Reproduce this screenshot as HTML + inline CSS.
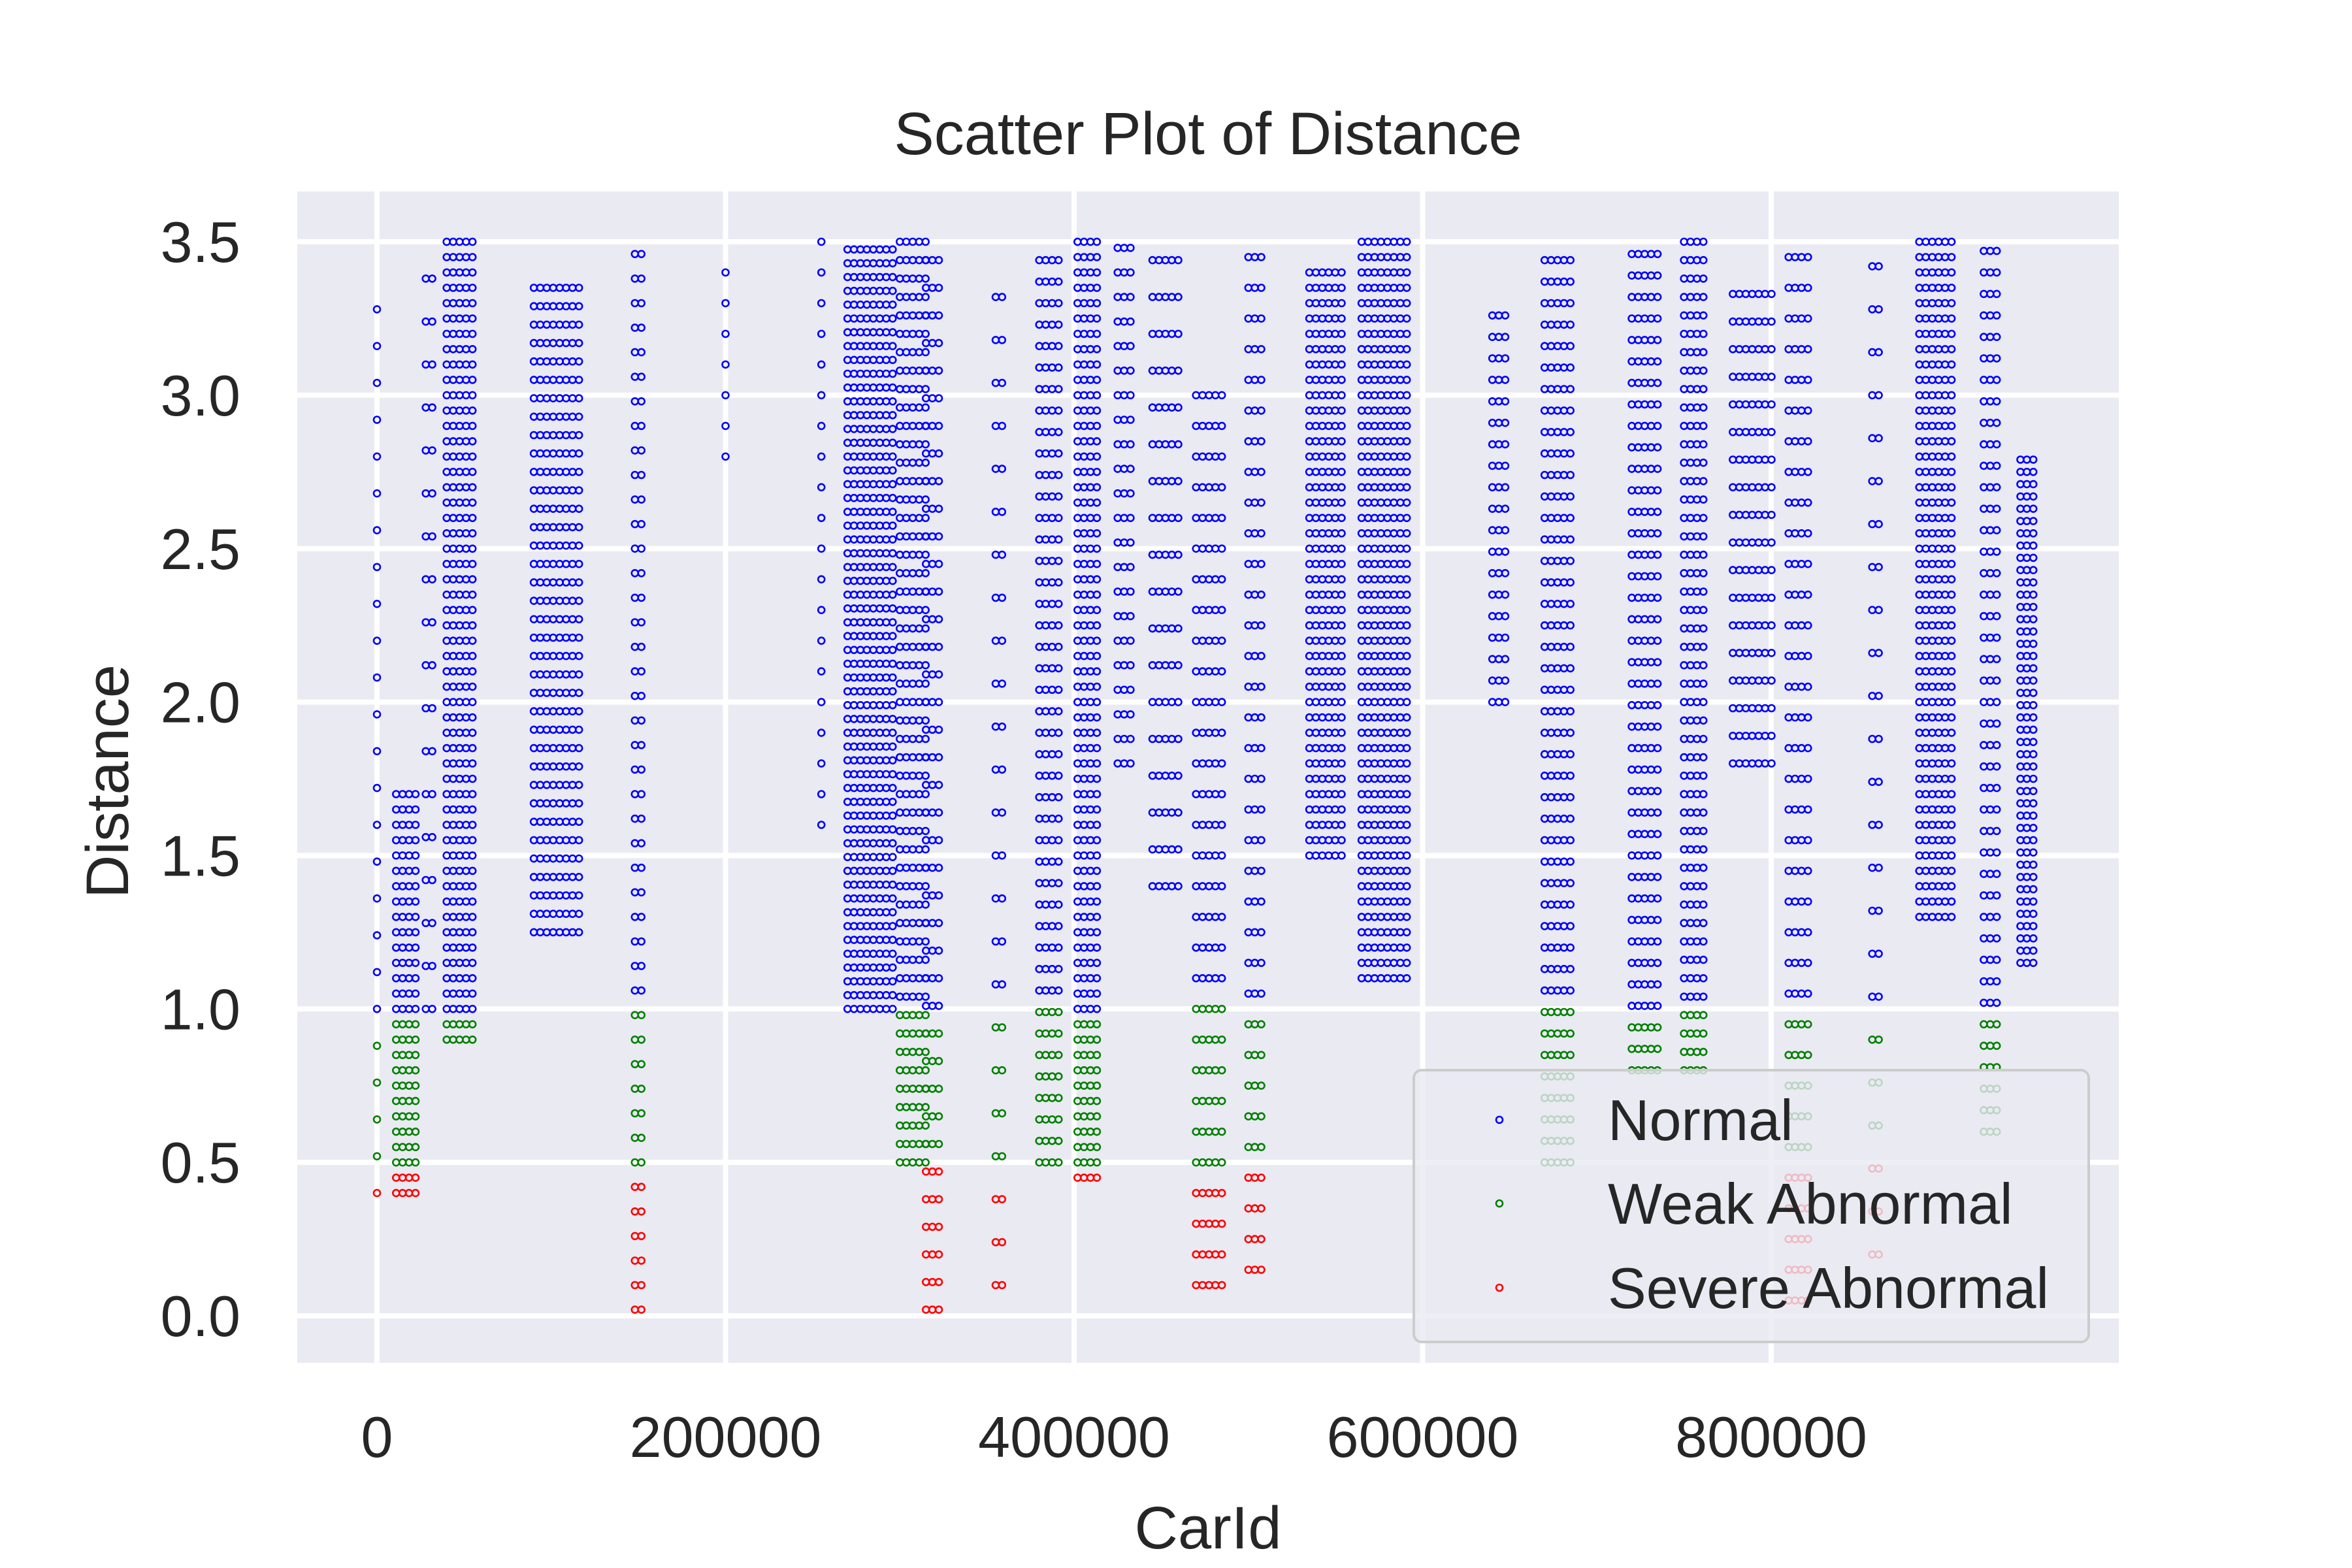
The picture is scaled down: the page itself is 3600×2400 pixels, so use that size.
<!DOCTYPE html>
<html><head><meta charset="utf-8"><style>
html,body{margin:0;padding:0;background:#fff}
svg{display:block}
text{font-family:"Liberation Sans",Arial,sans-serif;fill:#262626}
</style></head><body>
<svg id="chart" width="3600" height="2400" xmlns="http://www.w3.org/2000/svg">
<rect x="455" y="293" width="2788" height="1793" fill="#eaeaf2"/>
<g id="grid"></g>
<g id="ticks"></g>
<g id="pts"></g>
<text x="1849" y="236" font-size="92" text-anchor="middle">Scatter Plot of Distance</text>
<text x="1849" y="2370" font-size="92" text-anchor="middle">CarId</text>
<text x="0" y="0" font-size="92" text-anchor="middle" transform="translate(196,1196) rotate(-90)">Distance</text>
<g>
<rect x="2164" y="1638" width="1033" height="416" rx="12" fill="#eaeaf2" fill-opacity="0.8" stroke="#cccccc" stroke-width="4"/>
<circle cx="2295" cy="1714" r="5" fill="none" stroke="#0000ff" stroke-width="2.6"/>
<text x="2461" y="1745" font-size="88">Normal</text>
<circle cx="2295" cy="1842" r="5" fill="none" stroke="#008000" stroke-width="2.6"/>
<text x="2461" y="1873" font-size="88">Weak Abnormal</text>
<circle cx="2295" cy="1971" r="5" fill="none" stroke="#ff0000" stroke-width="2.6"/>
<text x="2461" y="2002" font-size="88">Severe Abnormal</text>
</g>
</svg>
<script>
const xTicks = [0, 200000, 400000, 600000, 800000];
const yTicks = [0.0, 0.5, 1.0, 1.5, 2.0, 2.5, 3.0, 3.5];
// Groups of card ids: start id, number of sub-columns, min distance, max distance, distance spacing
const groupIds   = [0, 11000, 28000, 40000, 90000, 148000, 200000, 255000, 270000, 300000, 315000, 355000, 380000, 402000, 425000, 445000, 470000, 500000, 535000, 565000, 640000, 670000, 720000, 750000, 778000, 810000, 858000, 885000, 922000, 943000];
const groupCols  = [1, 4, 2, 5, 8, 2, 1, 1, 8, 5, 3, 2, 4, 4, 3, 5, 5, 3, 6, 8, 3, 5, 5, 4, 7, 4, 2, 6, 3, 3];
const groupLow   = [0.40, 0.40, 1.00, 0.90, 1.25, 0.02, 2.80, 1.60, 1.00, 0.50, 0.02, 0.10, 0.50, 0.45, 1.80, 1.40, 0.10, 0.15, 1.50, 1.10, 2.00, 0.50, 0.80, 0.80, 1.80, 0.05, 0.20, 1.30, 0.60, 1.15];
const groupHigh  = [3.30, 1.70, 3.50, 3.50, 3.40, 3.50, 3.40, 3.50, 3.50, 3.50, 3.50, 3.40, 3.50, 3.50, 3.50, 3.50, 3.00, 3.50, 3.40, 3.50, 3.30, 3.50, 3.50, 3.50, 3.40, 3.50, 3.50, 3.50, 3.50, 2.80];
const groupStep  = [0.12, 0.05, 0.14, 0.05, 0.06, 0.08, 0.10, 0.10, 0.045, 0.06, 0.09, 0.14, 0.07, 0.05, 0.08, 0.12, 0.10, 0.10, 0.05, 0.05, 0.07, 0.07, 0.07, 0.06, 0.09, 0.10, 0.14, 0.05, 0.07, 0.04];

const NS = "http://www.w3.org/2000/svg";
const X0 = 577, XS = 533.5/200000, Y0 = 2014, YS = 469.7;
function xs(v){ return X0 + v*XS; }
function ys(v){ return Y0 - v*YS; }

const grid = document.getElementById('grid');
const ticks = document.getElementById('ticks');
xTicks.forEach(t=>{
  const l = document.createElementNS(NS,'line');
  l.setAttribute('x1',xs(t)); l.setAttribute('x2',xs(t));
  l.setAttribute('y1',293); l.setAttribute('y2',2086);
  l.setAttribute('stroke','#fff'); l.setAttribute('stroke-width','8');
  
  
  grid.appendChild(l);
  const tx = document.createElementNS(NS,'text');
  tx.setAttribute('x',xs(t)); tx.setAttribute('y',2230);
  tx.setAttribute('font-size','88'); tx.setAttribute('text-anchor','middle');
  tx.textContent = String(t);
  
  
  ticks.appendChild(tx);
});
yTicks.forEach(t=>{
  const l = document.createElementNS(NS,'line');
  l.setAttribute('x1',455); l.setAttribute('x2',3243);
  l.setAttribute('y1',ys(t)); l.setAttribute('y2',ys(t));
  l.setAttribute('stroke','#fff'); l.setAttribute('stroke-width','8');
  
  
  grid.appendChild(l);
  const tx = document.createElementNS(NS,'text');
  tx.setAttribute('x',368); tx.setAttribute('y',ys(t)+31);
  tx.setAttribute('font-size','88'); tx.setAttribute('text-anchor','end');
  tx.textContent = t.toFixed(1);
  
  
  ticks.appendChild(tx);
});

const pts = document.getElementById('pts');
let parts = [];
for (let g=0; g<groupIds.length; g++){
  for (let c=0; c<groupCols[g]; c++){
    const id = groupIds[g] + c*3700;
    for (let d=groupLow[g]; d<=groupHigh[g]+1e-9; d+=groupStep[g]){
      const col = d >= 1.0 ? '#0000ff' : (d >= 0.5 ? '#008000' : '#ff0000');
      parts.push('<circle cx="'+xs(id).toFixed(1)+'" cy="'+ys(d).toFixed(1)+'" r="5" fill="none" stroke="'+col+'" stroke-width="2.6"/>');
    }
  }
}
pts.innerHTML = parts.join('');
</script>
</body></html>
